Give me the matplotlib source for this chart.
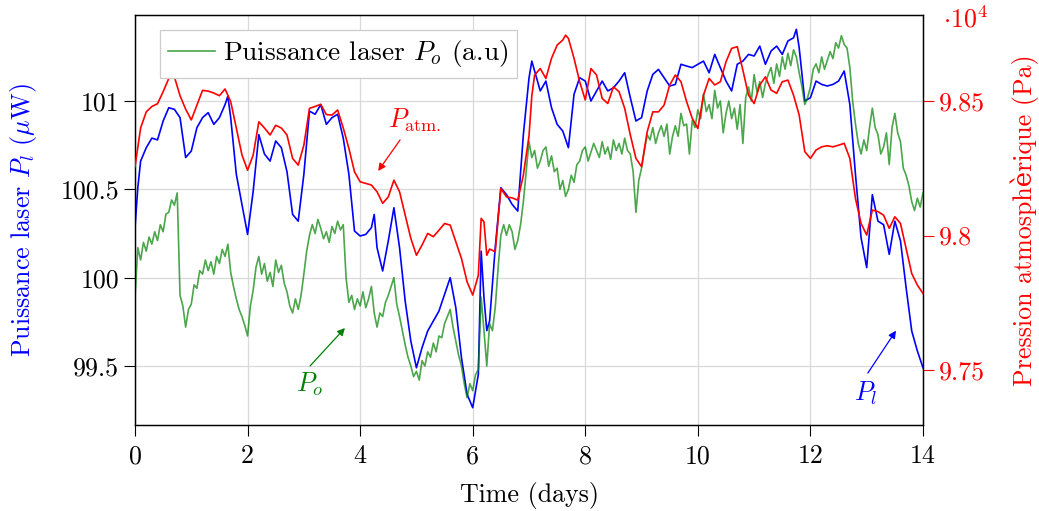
import matplotlib
matplotlib.use("Agg")
import matplotlib.pyplot as plt
from matplotlib.lines import Line2D

plt.rcParams['font.family'] = ['cmr10', 'DejaVu Serif']
plt.rcParams['mathtext.fontset'] = 'cm'
plt.rcParams['axes.formatter.use_mathtext'] = True

# ---------------- data ----------------
t_red = [0.0, 0.1, 0.2, 0.3, 0.4, 0.5, 0.6, 0.65, 0.7, 0.8, 0.9, 1.0, 1.1, 1.2, 1.3, 1.4, 1.5, 1.6, 1.7, 1.8, 1.9,
         2.0, 2.1, 2.2, 2.3, 2.4, 2.5, 2.6, 2.7, 2.8, 2.9, 3.0, 3.1, 3.2, 3.3, 3.4, 3.5, 3.6, 3.7, 3.8, 3.9,
         4.0, 4.1, 4.2, 4.3, 4.4, 4.5, 4.6, 4.7, 4.8, 4.9, 5.0, 5.1, 5.2, 5.3, 5.4, 5.5, 5.6, 5.7, 5.8, 5.9,
         6.0, 6.1, 6.15, 6.2, 6.25, 6.3, 6.4, 6.5, 6.6, 6.7, 6.8, 6.9, 7.0, 7.05, 7.1, 7.2, 7.3, 7.4, 7.5, 7.6,
         7.65, 7.7, 7.8, 7.9, 8.0, 8.1, 8.2, 8.3, 8.4, 8.5, 8.6, 8.7, 8.8, 8.9, 9.0, 9.1, 9.2, 9.3, 9.4, 9.5,
         9.6, 9.7, 9.8, 9.9, 10.0, 10.1, 10.2, 10.3, 10.4, 10.5, 10.6, 10.7, 10.8, 10.9, 11.0, 11.1, 11.2,
         11.3, 11.4, 11.5, 11.6, 11.7, 11.8, 11.9, 12.0, 12.1, 12.2, 12.3, 12.4, 12.5, 12.6, 12.7, 12.8,
         12.9, 13.0, 13.1, 13.2, 13.3, 13.4, 13.5, 13.6, 13.7, 13.8, 13.9, 14.0]
p_atm = [9.8256, 9.840, 9.846, 9.848, 9.849, 9.8535, 9.8584, 9.8607, 9.859, 9.852, 9.847, 9.843, 9.8485,
         9.854, 9.8537, 9.853, 9.852, 9.8545, 9.8498, 9.840, 9.830, 9.8243, 9.830, 9.8423, 9.840, 9.8374,
         9.841, 9.840, 9.8374, 9.8287, 9.8262, 9.8336, 9.8473, 9.848, 9.8488, 9.845, 9.8448, 9.8467, 9.840,
         9.8324, 9.8237, 9.820, 9.8194, 9.8188, 9.8163, 9.812, 9.8144, 9.8206, 9.8163, 9.8076, 9.799, 9.7927,
         9.7965, 9.8008, 9.7996, 9.802, 9.8045, 9.8039, 9.7977, 9.7915, 9.7828, 9.7779, 9.7853, 9.8064,
         9.8051, 9.7927, 9.795, 9.794, 9.8175, 9.8144, 9.814, 9.8132, 9.8225, 9.837, 9.852, 9.8597, 9.8621,
         9.8584, 9.8659, 9.8708, 9.8727, 9.8745, 9.8733, 9.8659, 9.8572, 9.8504, 9.8621, 9.8597, 9.851,
         9.8491, 9.8553, 9.8535, 9.8473, 9.8374, 9.8287, 9.8256, 9.8386, 9.846, 9.846, 9.8485, 9.856,
         9.8597, 9.8572, 9.8498, 9.8436, 9.8398, 9.8522, 9.8584, 9.856, 9.8572, 9.8646, 9.8696, 9.8702,
         9.8615, 9.8522, 9.8491, 9.856, 9.859, 9.8541, 9.8529, 9.8572, 9.8578, 9.8522, 9.8448, 9.8312,
         9.8287, 9.8318, 9.833, 9.8334, 9.833, 9.8336, 9.8343, 9.8287, 9.8138, 9.8045, 9.8002, 9.8095,
         9.8089, 9.8076, 9.8027, 9.807, 9.8045, 9.7952, 9.7859, 9.7816, 9.7785]

t_blue = [0.0, 0.05, 0.1, 0.2, 0.3, 0.4, 0.5, 0.6, 0.7, 0.8, 0.9, 1.0, 1.1, 1.2, 1.3, 1.4, 1.5, 1.6, 1.65, 1.7,
          1.8, 1.9, 2.0, 2.1, 2.2, 2.3, 2.4, 2.5, 2.6, 2.7, 2.8, 2.9, 3.0, 3.1, 3.2, 3.3, 3.4, 3.5, 3.6, 3.7,
          3.8, 3.9, 4.0, 4.1, 4.2, 4.25, 4.3, 4.4, 4.5, 4.6, 4.7, 4.8, 4.9, 5.0, 5.1, 5.2, 5.3, 5.4, 5.5, 5.6,
          5.7, 5.8, 5.9, 6.0, 6.1, 6.15, 6.2, 6.25, 6.3, 6.4, 6.5, 6.6, 6.7, 6.8, 6.9, 7.0, 7.05, 7.1, 7.2,
          7.3, 7.4, 7.5, 7.6, 7.7, 7.75, 7.8, 7.9, 8.0, 8.1, 8.2, 8.3, 8.4, 8.5, 8.6, 8.7, 8.8, 8.9, 9.0, 9.1,
          9.2, 9.3, 9.4, 9.5, 9.6, 9.7, 9.8, 9.9, 10.0, 10.1, 10.2, 10.3, 10.4, 10.5, 10.6, 10.7, 10.8, 10.9,
          11.0, 11.1, 11.2, 11.3, 11.4, 11.5, 11.6, 11.7, 11.75, 11.8, 11.9, 12.0, 12.1, 12.2, 12.3, 12.4,
          12.5, 12.6, 12.7, 12.8, 12.9, 13.0, 13.1, 13.2, 13.3, 13.4, 13.5, 13.6, 13.7, 13.8, 13.9, 14.0]
p_laser = [100.283, 100.51, 100.66, 100.736, 100.79, 100.78, 100.887, 100.962, 100.953, 100.906, 100.68,
           100.717, 100.849, 100.906, 100.934, 100.868, 100.906, 100.98, 101.028, 100.906, 100.585, 100.415,
           100.245, 100.49, 100.81, 100.70, 100.66, 100.774, 100.736, 100.60, 100.358, 100.32, 100.585,
           100.943, 100.925, 100.98, 100.868, 100.906, 100.925, 100.79, 100.585, 100.264, 100.236, 100.245,
           100.283, 100.358, 100.17, 100.038, 100.208, 100.396, 100.17, 99.868, 99.642, 99.49, 99.604,
           99.698, 99.755, 99.811, 99.906, 100.0, 99.83, 99.547, 99.34, 99.264, 99.453, 100.15, 99.887,
           99.70, 99.755, 100.17, 100.509, 100.47, 100.415, 100.377, 100.811, 101.13, 101.226, 101.17,
           101.057, 101.113, 100.962, 100.868, 100.83, 100.736, 100.887, 101.038, 101.132, 101.113, 101.0,
           101.057, 101.113, 101.057, 101.075, 101.113, 101.16, 101.019, 100.887, 100.906, 101.057, 101.151,
           101.179, 101.132, 101.085, 101.094, 101.208, 101.198, 101.189, 101.208, 101.226, 101.16, 101.264,
           101.189, 101.113, 101.057, 101.208, 101.226, 101.264, 101.255, 101.311, 101.208, 101.283, 101.311,
           101.264, 101.34, 101.358, 101.406, 101.302, 101.0, 101.019, 101.113, 101.094, 101.085, 101.094,
           101.113, 101.17, 100.981, 100.585, 100.226, 100.057, 100.47, 100.32, 100.30, 100.132, 100.32,
           100.208, 99.943, 99.698, 99.585, 99.49]

t_green = [0.00, 0.05, 0.10, 0.15, 0.20, 0.25, 0.30, 0.35, 0.40, 0.45, 0.50, 0.55, 0.60, 0.65, 0.70, 0.75,
           0.80, 0.85, 0.90, 0.95, 1.00, 1.05, 1.10, 1.15, 1.20, 1.25, 1.30, 1.35, 1.40, 1.45, 1.50, 1.55,
           1.60, 1.65, 1.70, 1.75, 1.80, 1.85, 1.90, 1.95, 2.00, 2.05, 2.10, 2.15, 2.20, 2.25, 2.30, 2.35,
           2.40, 2.45, 2.50, 2.55, 2.60, 2.65, 2.70, 2.75, 2.80, 2.85, 2.90, 2.95, 3.00, 3.05, 3.10, 3.15,
           3.20, 3.25, 3.30, 3.35, 3.40, 3.45, 3.50, 3.55, 3.60, 3.65, 3.70, 3.75, 3.80, 3.85, 3.90, 3.95,
           4.00, 4.05, 4.10, 4.15, 4.20, 4.25, 4.30, 4.35, 4.40, 4.45, 4.50, 4.55, 4.60, 4.65, 4.70, 4.75,
           4.80, 4.85, 4.90, 4.95, 5.00, 5.05, 5.10, 5.15, 5.20, 5.25, 5.30, 5.35, 5.40, 5.45, 5.50, 5.55,
           5.60, 5.65, 5.70, 5.75, 5.80, 5.85, 5.90, 5.95, 6.00, 6.05, 6.10, 6.15, 6.20, 6.25, 6.30, 6.35,
           6.40, 6.45, 6.50, 6.55, 6.60, 6.65, 6.70, 6.75, 6.80, 6.85, 6.90, 6.95, 7.00, 7.05, 7.10, 7.15,
           7.20, 7.25, 7.30, 7.35, 7.40, 7.45, 7.50, 7.55, 7.60, 7.65, 7.70, 7.75, 7.80, 7.85, 7.90, 7.95,
           8.00, 8.05, 8.10, 8.15, 8.20, 8.25, 8.30, 8.35, 8.40, 8.45, 8.50, 8.55, 8.60, 8.65, 8.70, 8.75,
           8.80, 8.85, 8.90, 8.95, 9.00, 9.05, 9.10, 9.15, 9.20, 9.25, 9.30, 9.35, 9.40, 9.45, 9.50, 9.55,
           9.60, 9.65, 9.70, 9.75, 9.80, 9.85, 9.90, 9.95, 10.00, 10.05, 10.10, 10.15, 10.20, 10.25, 10.30,
           10.35, 10.40, 10.45, 10.50, 10.55, 10.60, 10.65, 10.70, 10.75, 10.80, 10.85, 10.90, 10.95, 11.00,
           11.05, 11.10, 11.15, 11.20, 11.25, 11.30, 11.35, 11.40, 11.45, 11.50, 11.55, 11.60, 11.65, 11.70,
           11.75, 11.80, 11.85, 11.90, 11.95, 12.00, 12.05, 12.10, 12.15, 12.20, 12.25, 12.30, 12.35, 12.40,
           12.45, 12.50, 12.55, 12.60, 12.65, 12.70, 12.75, 12.80, 12.85, 12.90, 12.95, 13.00, 13.05, 13.10,
           13.15, 13.20, 13.25, 13.30, 13.35, 13.40, 13.45, 13.50, 13.55, 13.60, 13.65, 13.70, 13.75, 13.80,
           13.85, 13.90, 13.95, 14.00]
p_out = [99.887, 100.17, 100.10, 100.20, 100.15, 100.23, 100.19, 100.26, 100.21, 100.30, 100.26, 100.36,
         100.37, 100.44, 100.41, 100.48, 99.90, 99.84, 99.72, 99.82, 99.85, 99.96, 99.94, 100.04, 100.02,
         100.10, 100.04, 100.09, 100.02, 100.12, 100.08, 100.16, 100.12, 100.19, 100.03, 99.95, 99.88, 99.82,
         99.78, 99.73, 99.67, 99.84, 99.93, 100.06, 100.12, 100.02, 100.08, 99.98, 100.03, 99.95, 100.10,
         100.03, 100.07, 99.97, 99.92, 99.84, 99.80, 99.88, 99.82, 99.90, 100.02, 100.15, 100.24, 100.30,
         100.25, 100.33, 100.28, 100.22, 100.26, 100.20, 100.29, 100.25, 100.32, 100.27, 100.30, 100.00,
         99.86, 99.90, 99.82, 99.88, 99.84, 99.92, 99.83, 99.88, 99.95, 99.80, 99.72, 99.80, 99.78, 99.86,
         99.90, 99.95, 100.00, 99.85, 99.78, 99.70, 99.62, 99.55, 99.50, 99.44, 99.47, 99.42, 99.53, 99.50,
         99.58, 99.55, 99.63, 99.58, 99.67, 99.66, 99.74, 99.78, 99.82, 99.72, 99.64, 99.56, 99.50, 99.40,
         99.32, 99.40, 99.36, 99.45, 99.48, 99.89, 99.70, 99.50, 99.74, 99.70, 99.83, 100.05, 100.24, 100.30,
         100.24, 100.30, 100.26, 100.16, 100.21, 100.30, 100.43, 100.60, 100.77, 100.68, 100.72, 100.62,
         100.66, 100.72, 100.74, 100.63, 100.69, 100.60, 100.62, 100.50, 100.55, 100.46, 100.50, 100.58,
         100.54, 100.64, 100.66, 100.72, 100.74, 100.66, 100.71, 100.76, 100.72, 100.68, 100.77, 100.70,
         100.74, 100.67, 100.78, 100.72, 100.76, 100.70, 100.79, 100.72, 100.70, 100.60, 100.37, 100.55,
         100.62, 100.72, 100.81, 100.78, 100.85, 100.76, 100.82, 100.86, 100.80, 100.87, 100.70, 100.80,
         100.86, 100.80, 100.93, 100.86, 100.87, 100.70, 100.89, 100.85, 100.95, 100.90, 101.04, 100.94,
         100.98, 100.90, 101.06, 100.96, 101.00, 100.82, 100.93, 101.00, 100.90, 100.96, 100.84, 100.98,
         100.76, 101.02, 101.08, 101.00, 101.15, 101.05, 101.11, 101.02, 101.10, 101.15, 101.19, 101.10,
         101.21, 101.14, 101.25, 101.18, 101.27, 101.20, 101.29, 101.25, 101.16, 101.08, 100.98, 101.02,
         101.08, 101.18, 101.21, 101.16, 101.25, 101.18, 101.23, 101.28, 101.24, 101.33, 101.30, 101.37,
         101.32, 101.30, 101.19, 101.00, 100.87, 100.76, 100.70, 100.78, 100.72, 100.85, 100.96, 100.85,
         100.81, 100.70, 100.74, 100.82, 100.64, 100.85, 100.93, 100.82, 100.77, 100.62, 100.58, 100.52,
         100.43, 100.38, 100.45, 100.40, 100.48]

x_ticks = [0, 2, 4, 6, 8, 10, 12, 14]
left_ticks = [99.5, 100, 100.5, 101]
left_labels = ["99.5", "100", "100.5", "101"]
right_ticks = [9.75, 9.8, 9.85]
right_labels = ["9.75", "9.8", "9.85"]

# ---------------- figure ----------------
FS = 18.7
fig = plt.figure(figsize=(10.39, 5.11), dpi=100)
ax = fig.add_axes([135 / 1039, 1 - 425 / 511, (923 - 135) / 1039, (425 - 15) / 511])
ax2 = ax.twinx()

ax.plot(t_blue, p_laser, color='blue', lw=1.2, zorder=3)
ax.plot(t_green, p_out, color='green', alpha=0.7, lw=1.2, zorder=4)
ax2.plot(t_red, p_atm, color='red', lw=1.2, zorder=3)

ax.set_xlim(0, 14)
ax.set_ylim(99.166, 101.487)
ax2.set_ylim(9.7296, 9.882)

ax.set_xticks(x_ticks)
ax.set_xticklabels([str(v) for v in x_ticks])
ax.set_yticks(left_ticks)
ax.set_yticklabels(left_labels)
ax2.set_yticks(right_ticks)
ax2.set_yticklabels(right_labels)

ax.tick_params(axis='both', direction='out', length=8, width=0.8, labelsize=FS, color='black')
ax.tick_params(axis='x', pad=6)
ax2.tick_params(axis='y', direction='out', length=8, width=0.8, labelsize=FS, colors='red')

ax.grid(True, color='#d9d9d9', lw=0.9)
ax.set_axisbelow(True)
for a in (ax, ax2):
    for s in a.spines.values():
        s.set_linewidth(0.9)
        s.set_color('black')

ax.set_xlabel("Time (days)", fontsize=FS, labelpad=10)
ax.set_ylabel(r"Puissance laser $P_l$ ($\mu$W)", fontsize=FS, color='blue', labelpad=15)
ax2.set_ylabel("Pression atmosphèrique (Pa)", fontsize=FS, color='red', labelpad=18)

fig.text(943 / 1039, 1 - 27 / 511, r"$\cdot 10^4$", color='red', fontsize=FS, ha='left', va='baseline')

# legend
h = Line2D([], [], color='green', alpha=0.7, lw=1.2)
leg = ax2.legend([h], ["Puissance laser $P_o$ (a.u)"], loc='upper left',
                 bbox_to_anchor=(0.0317, 0.963), borderaxespad=0, fontsize=19.8,
                 fancybox=False, edgecolor='#cccccc', framealpha=1,
                 handlelength=1.7, handletextpad=0.3, borderpad=0.3)
leg.get_frame().set_linewidth(0.9)

# annotations
arrow = dict(arrowstyle='-|>', lw=0.9, mutation_scale=11, shrinkA=0, shrinkB=0)
ax.annotate('', xy=(4.32, 100.604), xytext=(4.71, 100.78),
            arrowprops=dict(color='red', **arrow))
ax.text(4.97, 100.89, r"$P_{\mathrm{atm.}}$", color='red', fontsize=FS, ha='center', va='center')
ax.annotate('', xy=(3.73, 99.715), xytext=(3.11, 99.50),
            arrowprops=dict(color='green', **arrow))
ax.text(3.11, 99.398, r"$P_o$", color='green', fontsize=FS, ha='center', va='center')
ax.annotate('', xy=(13.52, 99.70), xytext=(13.02, 99.46),
            arrowprops=dict(color='blue', **arrow))
ax.text(12.99, 99.347, r"$P_l$", color='blue', fontsize=FS, ha='center', va='center')

fig.savefig("out.png", dpi=100)
